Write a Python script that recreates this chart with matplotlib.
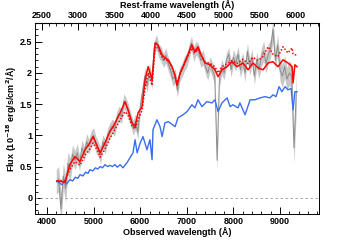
import numpy as np
import matplotlib
matplotlib.use("Agg")
import matplotlib.pyplot as plt
from matplotlib.ticker import MultipleLocator

plt.rcParams["font.family"] = ["Liberation Sans", "DejaVu Sans"]
plt.rcParams["font.weight"] = "bold"

REDSHIFT = 0.557

# observed spectrum, 50 A steps from 4200 to 9350
obs_wave = np.arange(4200, 9351, 50)
obs_flux = [
    0.25, 0.30, -0.18, 0.35, 0.15, 0.55, 0.45, 0.70, 0.60, 0.72,
    0.55, 0.80, 0.70, 0.90, 0.82, 0.95, 1.00, 0.85, 0.78, 0.68,
    0.90, 0.82, 1.00, 1.08, 1.15, 1.10, 1.28, 1.35, 1.30, 1.55,
    1.48, 1.38, 1.25, 1.12, 1.22, 1.05, 1.45, 1.70, 1.95, 1.80,
    2.05, 1.85, 2.40, 2.50, 2.35, 2.30, 2.20, 2.28, 2.15, 2.05,
    1.90, 1.95, 1.72, 1.98, 2.05, 2.15, 2.20, 2.35, 2.48, 2.30,
    2.40, 2.35, 2.20, 2.25, 2.10, 2.00, 2.15, 2.05, 1.95, 0.60,
    1.90, 2.10, 2.00, 2.20, 2.30, 2.05, 2.25, 2.15, 2.30, 2.05,
    2.20, 2.00, 2.35, 2.10, 2.25, 1.95, 2.20, 2.05, 2.25, 2.35,
    2.15, 2.30, 2.40, 2.70, 2.20, 2.45, 2.05, 1.95, 2.10, 1.90,
    2.00, 1.95, 0.80, 1.70,
]
obs_err = [
    0.20, 0.20, 0.25, 0.20, 0.22, 0.18, 0.18, 0.15, 0.15, 0.15,
    0.12, 0.13, 0.12, 0.13, 0.12, 0.13, 0.12, 0.13, 0.12, 0.13,
    0.11, 0.12, 0.11, 0.12, 0.11, 0.12, 0.11, 0.12, 0.11, 0.12,
    0.11, 0.12, 0.11, 0.12, 0.13, 0.12, 0.13, 0.12, 0.13, 0.11,
    0.11, 0.12, 0.11, 0.12, 0.11, 0.12, 0.11, 0.12, 0.11, 0.12,
    0.11, 0.12, 0.11, 0.12, 0.11, 0.12, 0.11, 0.12, 0.11, 0.12,
    0.11, 0.12, 0.11, 0.12, 0.11, 0.12, 0.11, 0.12, 0.13, 0.15,
    0.13, 0.12, 0.11, 0.12, 0.11, 0.12, 0.13, 0.12, 0.13, 0.12,
    0.13, 0.14, 0.13, 0.14, 0.13, 0.14, 0.13, 0.14, 0.15, 0.16,
    0.15, 0.16, 0.15, 0.18, 0.16, 0.16, 0.18, 0.18, 0.18, 0.18,
    0.20, 0.20, 0.25, 0.30,
]

# best-fit models
model_wave = [
    4215, 4390, 4490, 4600, 4710, 4815, 4920, 4990, 5095, 5140,
    5245, 5350, 5420, 5570, 5675, 5740, 5825, 5890, 5955, 6040,
    6105, 6170, 6255, 6320, 6380, 6470, 6530, 6600, 6685, 6750,
    6790, 6855, 6920, 7005, 7110, 7175, 7240, 7325, 7390, 7500,
    7605, 7670, 7755, 7865, 7970, 8075, 8205, 8315, 8420, 8530,
    8635, 8745, 8850, 8955, 9065, 9170, 9260, 9280, 9320, 9365,
]
model_solid = [
    0.27, 0.25, 0.53, 0.66, 0.58, 0.77, 0.88, 0.98, 0.80, 0.72,
    0.88, 1.06, 1.14, 1.36, 1.54, 1.41, 1.20, 1.14, 1.36, 1.46,
    1.89, 2.10, 1.89, 2.48, 2.45, 2.29, 2.24, 2.21, 2.10, 1.95,
    1.80, 2.00, 2.10, 2.26, 2.45, 2.34, 2.42, 2.26, 2.16, 2.13,
    2.05, 1.94, 2.05, 2.10, 2.18, 2.10, 2.16, 2.05, 2.16, 2.08,
    2.05, 2.16, 2.18, 2.10, 2.21, 2.16, 2.10, 1.84, 2.13, 2.10,
]
model_dotted = [
    0.27, 0.28, 0.45, 0.58, 0.52, 0.68, 0.78, 0.88, 0.74, 0.65,
    0.78, 0.95, 1.04, 1.25, 1.38, 1.32, 1.15, 1.10, 1.25, 1.40,
    1.75, 2.00, 1.80, 2.40, 2.42, 2.25, 2.20, 2.20, 2.08, 1.95,
    1.82, 1.98, 2.10, 2.24, 2.40, 2.32, 2.38, 2.25, 2.18, 2.15,
    2.10, 2.00, 2.10, 2.15, 2.20, 2.15, 2.22, 2.15, 2.25, 2.20,
    2.26, 2.42, 2.30, 2.26, 2.42, 2.32, 2.40, 2.30, 2.29, 2.29,
]

blue_wave = [
    4215, 4260, 4320, 4370, 4420, 4490, 4550, 4610, 4660, 4710,
    4770, 4830, 4880, 4920, 4980, 5040, 5090, 5140, 5190, 5245,
    5300, 5350, 5400, 5460, 5510, 5570, 5630,
    5715, 5780, 5845, 5890, 5935, 6000, 6060, 6145, 6210, 6255,
    6275, 6360, 6425, 6470, 6530, 6600, 6640, 6750, 6810, 6920,
    7005, 7110, 7175, 7240, 7325, 7430, 7540, 7605, 7670, 7755,
    7865, 7930, 7990, 8100, 8140, 8250, 8360, 8465, 8570, 8680,
    8785, 8850, 8915, 8980, 9040, 9110, 9170, 9240, 9280, 9320,
    9365,
]
blue_flux = [
    0.27, 0.24, 0.21, 0.26, 0.22, 0.29, 0.27, 0.33, 0.31, 0.37,
    0.35, 0.41, 0.39, 0.45, 0.43, 0.48, 0.46, 0.50, 0.48, 0.53,
    0.50, 0.52, 0.50, 0.53, 0.49, 0.53, 0.48,
    0.56, 0.64, 0.72, 0.93, 0.72, 0.88, 0.98, 0.77, 0.93, 0.61,
    1.09, 1.25, 1.14, 0.98, 1.20, 1.22, 1.20, 1.14, 1.28, 1.33,
    1.38, 1.49, 1.44, 1.57, 1.46, 1.54, 1.52, 1.57, 1.38, 1.52,
    1.60, 1.46, 1.49, 1.44, 1.52, 1.33, 1.57, 1.57, 1.60, 1.62,
    1.60, 1.65, 1.62, 1.78, 1.70, 1.78, 1.73, 1.75, 1.41, 1.70,
    1.70,
]

fig = plt.figure(figsize=(3.55, 2.4), dpi=100)
ax = fig.add_axes([35 / 355, 26 / 240, 284 / 355, 191 / 240])

flux = np.array(obs_flux)
err = np.array(obs_err)
ax.axhline(0, color="0.6", lw=0.6, ls=(0, (3, 3)))
ax.fill_between(obs_wave, flux - err, flux + err, color="0.78", lw=0)
ax.plot(obs_wave, flux, color="0.55", lw=0.7)
ax.plot(blue_wave, blue_flux, color="#3b6cf5", lw=1.0)
ax.plot(model_wave, model_dotted, color="red", lw=1.1, ls=(0, (1, 1.2)))
ax.plot(model_wave, model_solid, color="red", lw=1.1)

ax.set_xlim(3743, 9837)
ax.set_ylim(-0.26, 2.8)

ax.xaxis.set_major_locator(MultipleLocator(1000))
ax.xaxis.set_minor_locator(MultipleLocator(200))
ax.yaxis.set_major_locator(MultipleLocator(0.5))
ax.yaxis.set_minor_locator(MultipleLocator(0.1))
ax.yaxis.set_major_formatter(plt.FuncFormatter(lambda v, p: f"{v:g}"))
ax.tick_params(which="both", direction="in", top=False, right=False,
               labelsize=6.5, pad=2)
ax.tick_params(which="major", length=5, width=0.7)
ax.tick_params(which="minor", length=2.5, width=0.6)

top = ax.secondary_xaxis("top", functions=(lambda x: x / (1 + REDSHIFT),
                                           lambda x: x * (1 + REDSHIFT)))
top.xaxis.set_major_locator(MultipleLocator(500))
top.xaxis.set_minor_locator(MultipleLocator(100))
top.tick_params(which="both", direction="in", labelsize=6.5, pad=2)
top.tick_params(which="major", length=5, width=0.7)
top.tick_params(which="minor", length=2.5, width=0.6)
top.set_xlabel("Rest-frame wavelength (Å)", fontsize=6.5, fontweight="bold",
               labelpad=2)

for s in ax.spines.values():
    s.set_linewidth(0.7)

ax.set_xlabel("Observed wavelength (Å)", fontsize=6.5, fontweight="bold",
              labelpad=1)
ax.set_ylabel("Flux (10$^{-18}$ erg/s/cm$^2$/Å)", fontsize=6.5,
              fontweight="bold")
ax.yaxis.set_label_coords(-0.058, 0.5)

fig.savefig("out.png", dpi=100)
